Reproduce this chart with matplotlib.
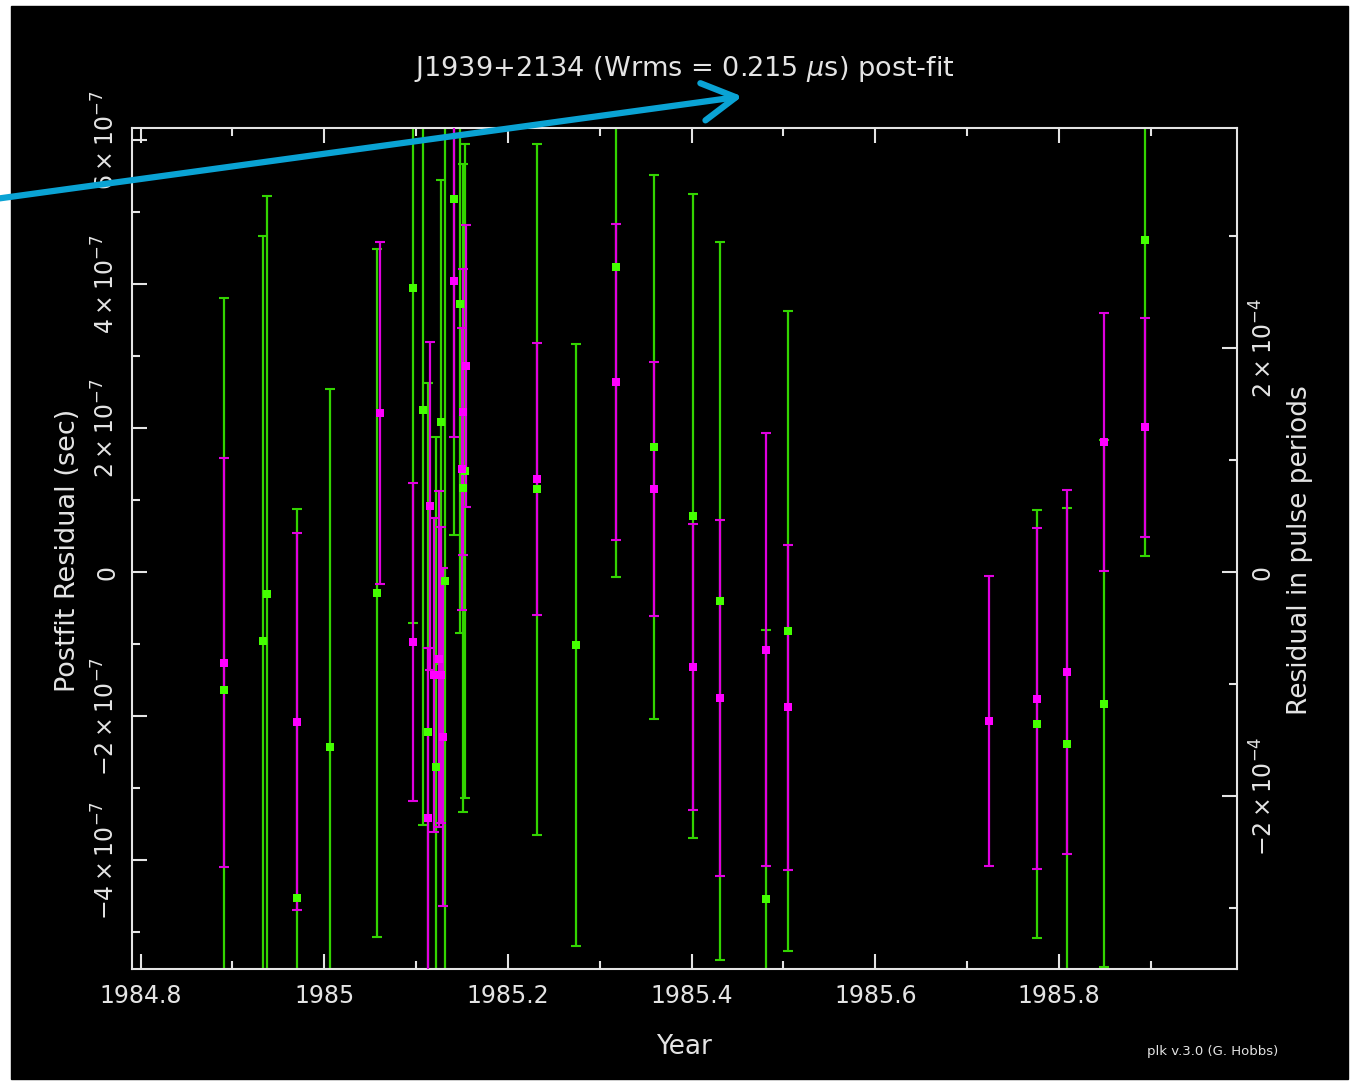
import numpy as np
import matplotlib.pyplot as plt
from matplotlib.patches import Rectangle, FancyArrowPatch
from matplotlib.ticker import MultipleLocator

plt.rcParams['mathtext.fontset'] = 'dejavusans'

# residuals in microseconds
green_year = [1984.891, 1984.933, 1984.938, 1984.970, 1985.006, 1985.057, 1985.097, 1985.108,
              1985.113, 1985.122, 1985.127, 1985.132, 1985.141, 1985.148, 1985.151, 1985.153,
              1985.232, 1985.274, 1985.318, 1985.359, 1985.402, 1985.431, 1985.481, 1985.505,
              1985.776, 1985.809, 1985.849, 1985.894]
green_res_us = [-0.164, -0.096, -0.031, -0.453, -0.243, -0.029, 0.394, 0.225,
                -0.222, -0.271, 0.208, -0.013, 0.518, 0.372, 0.117, 0.140,
                0.115, -0.101, 0.424, 0.174, 0.078, -0.040, -0.454, -0.082,
                -0.211, -0.239, -0.183, 0.461]
green_err_us = [0.544, 0.563, 0.553, 0.540, 0.497, 0.478, 0.465, 0.576,
                0.485, 0.458, 0.336, 0.653, 0.467, 0.457, 0.450, 0.454,
                0.480, 0.418, 0.431, 0.378, 0.447, 0.499, 0.374, 0.444,
                0.297, 0.328, 0.366, 0.439]

magenta_year = [1984.891, 1984.970, 1985.061, 1985.097, 1985.115, 1985.113, 1985.120, 1985.125,
                1985.127, 1985.129, 1985.141, 1985.150, 1985.151, 1985.154, 1985.232, 1985.318,
                1985.359, 1985.402, 1985.431, 1985.481, 1985.505, 1985.724, 1985.776, 1985.809,
                1985.849, 1985.894]
magenta_res_us = [-0.126, -0.208, 0.221, -0.097, 0.092, -0.342, -0.143, -0.121,
                  -0.143, -0.229, 0.404, 0.143, 0.222, 0.286, 0.129, 0.264,
                  0.115, -0.132, -0.175, -0.108, -0.188, -0.207, -0.176, -0.139,
                  0.181, 0.201]
magenta_err_us = [0.284, 0.262, 0.238, 0.221, 0.228, 0.236, 0.218, 0.233,
                  0.206, 0.235, 0.217, 0.196, 0.199, 0.196, 0.189, 0.219,
                  0.176, 0.198, 0.247, 0.301, 0.226, 0.201, 0.237, 0.253,
                  0.179, 0.152]

period = 1.5578e-3  # s, J1939+2134

W, H = 1351, 1081
fg = '#e4e4e4'
fig = plt.figure(figsize=(W / 100, H / 100), dpi=100, facecolor='white')
fig.add_artist(Rectangle((11 / W, 1 - 1079 / H), (1348 - 11) / W, (1079 - 6) / H,
                         transform=fig.transFigure, color='black', zorder=0))

ax = fig.add_axes([132 / W, 1 - 969 / H, (1237 - 132) / W, (969 - 128) / H])
ax.set_facecolor('black')

gx = np.array(green_year)
gy = np.array(green_res_us) * 1e-6
ge = np.array(green_err_us) * 1e-6
mx = np.array(magenta_year)
my = np.array(magenta_res_us) * 1e-6
me = np.array(magenta_err_us) * 1e-6

ax.errorbar(gx, gy, yerr=ge, fmt='none', ecolor='#33d400', elinewidth=1.6, capsize=3.5, capthick=1.5, zorder=2)
ax.errorbar(mx, my, yerr=me, fmt='none', ecolor='#e000e0', elinewidth=1.6, capsize=3.5, capthick=1.5, zorder=3)
ax.plot(gx, gy, 's', color='#44ff00', markersize=6, markeredgewidth=0, zorder=4)
ax.plot(mx, my, 's', color='#ff00ff', markersize=6, markeredgewidth=0, zorder=5)

xlo = 1984.8 + (132 - 140.5) / 918.5
xhi = 1984.8 + (1237 - 140.5) / 918.5
ylo = -(969 - 572) / 720 * 1e-6
yhi = (572 - 128) / 720 * 1e-6
ax.set_xlim(xlo, xhi)
ax.set_ylim(ylo, yhi)

for s in ax.spines.values():
    s.set_color(fg)
    s.set_linewidth(1.5)

ax.xaxis.set_minor_locator(MultipleLocator(0.1))
ax.set_xticks([1984.8, 1985.0, 1985.2, 1985.4, 1985.6, 1985.8])
ax.set_xticklabels(['1984.8', '1985', '1985.2', '1985.4', '1985.6', '1985.8'])

yt = [-4e-7, -2e-7, 0, 2e-7, 4e-7, 6e-7]
ylab = [r'$-4\times10^{-7}$', r'$-2\times10^{-7}$', '0',
        r'$2\times10^{-7}$', r'$4\times10^{-7}$', r'$6\times10^{-7}$']
ax.set_yticks(yt)
ax.set_yticklabels(ylab, rotation=90, va='center')
ax.yaxis.set_minor_locator(MultipleLocator(1e-7))

ax.tick_params(which='both', direction='in', colors=fg, width=1.5,
               top=True, bottom=True, left=True, right=False, labelsize=17)
ax.tick_params(which='major', length=11)
ax.tick_params(which='minor', length=6)
ax.tick_params(axis='x', pad=11)
ax.tick_params(axis='y', pad=9)

ax2 = ax.twinx()
ax2.set_ylim(ylo / period, yhi / period)
ax2.set_yticks([-2e-4, 0, 2e-4])
ax2.set_yticklabels([r'$-2\times10^{-4}$', '0', r'$2\times10^{-4}$'], rotation=90, va='center')
ax2.yaxis.set_minor_locator(MultipleLocator(1e-4))
ax2.tick_params(which='both', direction='in', colors=fg, width=1.5, labelsize=17, pad=10)
ax2.tick_params(which='major', length=11)
ax2.tick_params(which='minor', length=6)
for s in ax2.spines.values():
    s.set_visible(False)

fig.text(684 / W, 1 - 69 / H, r'J1939+2134 (Wrms = 0.215 $\mu$s) post-fit',
         color=fg, fontsize=19.5, ha='center', va='center')
fig.text(684 / W, 1 - 1047 / H, 'Year', color=fg, fontsize=19, ha='center', va='center')
fig.text(68 / W, 1 - 550 / H, 'Postfit Residual (sec)', color=fg, fontsize=19.5,
         rotation=90, ha='center', va='center')
fig.text(1300 / W, 1 - 550 / H, 'Residual in pulse periods', color=fg, fontsize=19,
         rotation=90, ha='center', va='center')
fig.text(1213 / W, 1 - 1051 / H, 'plk v.3.0 (G. Hobbs)', color=fg, fontsize=9.5,
         ha='center', va='center')

# blue annotation arrow drawn over the screenshot
arrow = FancyArrowPatch((-5 / W, 1 - 199 / H), (745 / W, 1 - 96 / H), transform=fig.transFigure,
                        arrowstyle='->,head_length=0.8,head_width=0.45', mutation_scale=30,
                        color='#0aa3d4', lw=4.5, zorder=10)
fig.add_artist(arrow)

fig.savefig('out.png', dpi=100, facecolor='white')
